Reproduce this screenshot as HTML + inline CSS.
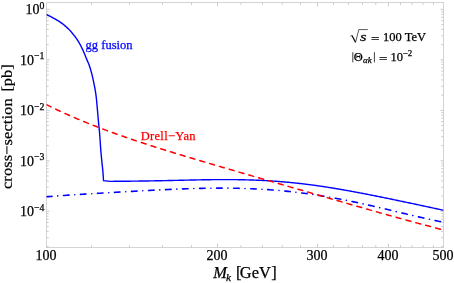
<!DOCTYPE html>
<html><head><meta charset="utf-8"><title>cross-section</title>
<style>
html,body{margin:0;padding:0;background:#fff;}
body{width:454px;height:283px;overflow:hidden;font-family:"Liberation Serif",serif;}
svg{display:block;will-change:transform;}
text{font-family:"Liberation Serif",serif;fill:#000;stroke:#000;stroke-width:0.25px;}
</style></head><body>
<svg width="454" height="283" viewBox="0 0 454 283">
<rect width="454" height="283" fill="#fff"/>
<g stroke="#d4d4d4" stroke-width="1" fill="none">
<rect x="46.5" y="2.5" width="397.00" height="245.00"/>
</g>
<g stroke="#c4c4c4" stroke-width="0.9" fill="none">
<line x1="46.50" y1="9.40" x2="49.50" y2="9.40"/><line x1="443.50" y1="9.40" x2="440.50" y2="9.40"/><line x1="46.50" y1="44.68" x2="48.70" y2="44.68"/><line x1="443.50" y1="44.68" x2="441.30" y2="44.68"/><line x1="46.50" y1="35.79" x2="48.70" y2="35.79"/><line x1="443.50" y1="35.79" x2="441.30" y2="35.79"/><line x1="46.50" y1="29.48" x2="48.70" y2="29.48"/><line x1="443.50" y1="29.48" x2="441.30" y2="29.48"/><line x1="46.50" y1="24.59" x2="48.70" y2="24.59"/><line x1="443.50" y1="24.59" x2="441.30" y2="24.59"/><line x1="46.50" y1="20.60" x2="48.70" y2="20.60"/><line x1="443.50" y1="20.60" x2="441.30" y2="20.60"/><line x1="46.50" y1="17.22" x2="48.70" y2="17.22"/><line x1="443.50" y1="17.22" x2="441.30" y2="17.22"/><line x1="46.50" y1="14.29" x2="48.70" y2="14.29"/><line x1="443.50" y1="14.29" x2="441.30" y2="14.29"/><line x1="46.50" y1="11.71" x2="48.70" y2="11.71"/><line x1="443.50" y1="11.71" x2="441.30" y2="11.71"/><line x1="46.50" y1="59.87" x2="49.50" y2="59.87"/><line x1="443.50" y1="59.87" x2="440.50" y2="59.87"/><line x1="46.50" y1="95.15" x2="48.70" y2="95.15"/><line x1="443.50" y1="95.15" x2="441.30" y2="95.15"/><line x1="46.50" y1="86.26" x2="48.70" y2="86.26"/><line x1="443.50" y1="86.26" x2="441.30" y2="86.26"/><line x1="46.50" y1="79.95" x2="48.70" y2="79.95"/><line x1="443.50" y1="79.95" x2="441.30" y2="79.95"/><line x1="46.50" y1="75.06" x2="48.70" y2="75.06"/><line x1="443.50" y1="75.06" x2="441.30" y2="75.06"/><line x1="46.50" y1="71.07" x2="48.70" y2="71.07"/><line x1="443.50" y1="71.07" x2="441.30" y2="71.07"/><line x1="46.50" y1="67.69" x2="48.70" y2="67.69"/><line x1="443.50" y1="67.69" x2="441.30" y2="67.69"/><line x1="46.50" y1="64.76" x2="48.70" y2="64.76"/><line x1="443.50" y1="64.76" x2="441.30" y2="64.76"/><line x1="46.50" y1="62.18" x2="48.70" y2="62.18"/><line x1="443.50" y1="62.18" x2="441.30" y2="62.18"/><line x1="46.50" y1="110.34" x2="49.50" y2="110.34"/><line x1="443.50" y1="110.34" x2="440.50" y2="110.34"/><line x1="46.50" y1="145.62" x2="48.70" y2="145.62"/><line x1="443.50" y1="145.62" x2="441.30" y2="145.62"/><line x1="46.50" y1="136.73" x2="48.70" y2="136.73"/><line x1="443.50" y1="136.73" x2="441.30" y2="136.73"/><line x1="46.50" y1="130.42" x2="48.70" y2="130.42"/><line x1="443.50" y1="130.42" x2="441.30" y2="130.42"/><line x1="46.50" y1="125.53" x2="48.70" y2="125.53"/><line x1="443.50" y1="125.53" x2="441.30" y2="125.53"/><line x1="46.50" y1="121.54" x2="48.70" y2="121.54"/><line x1="443.50" y1="121.54" x2="441.30" y2="121.54"/><line x1="46.50" y1="118.16" x2="48.70" y2="118.16"/><line x1="443.50" y1="118.16" x2="441.30" y2="118.16"/><line x1="46.50" y1="115.23" x2="48.70" y2="115.23"/><line x1="443.50" y1="115.23" x2="441.30" y2="115.23"/><line x1="46.50" y1="112.65" x2="48.70" y2="112.65"/><line x1="443.50" y1="112.65" x2="441.30" y2="112.65"/><line x1="46.50" y1="160.81" x2="49.50" y2="160.81"/><line x1="443.50" y1="160.81" x2="440.50" y2="160.81"/><line x1="46.50" y1="196.09" x2="48.70" y2="196.09"/><line x1="443.50" y1="196.09" x2="441.30" y2="196.09"/><line x1="46.50" y1="187.20" x2="48.70" y2="187.20"/><line x1="443.50" y1="187.20" x2="441.30" y2="187.20"/><line x1="46.50" y1="180.89" x2="48.70" y2="180.89"/><line x1="443.50" y1="180.89" x2="441.30" y2="180.89"/><line x1="46.50" y1="176.00" x2="48.70" y2="176.00"/><line x1="443.50" y1="176.00" x2="441.30" y2="176.00"/><line x1="46.50" y1="172.01" x2="48.70" y2="172.01"/><line x1="443.50" y1="172.01" x2="441.30" y2="172.01"/><line x1="46.50" y1="168.63" x2="48.70" y2="168.63"/><line x1="443.50" y1="168.63" x2="441.30" y2="168.63"/><line x1="46.50" y1="165.70" x2="48.70" y2="165.70"/><line x1="443.50" y1="165.70" x2="441.30" y2="165.70"/><line x1="46.50" y1="163.12" x2="48.70" y2="163.12"/><line x1="443.50" y1="163.12" x2="441.30" y2="163.12"/><line x1="46.50" y1="211.28" x2="49.50" y2="211.28"/><line x1="443.50" y1="211.28" x2="440.50" y2="211.28"/><line x1="46.50" y1="246.56" x2="48.70" y2="246.56"/><line x1="443.50" y1="246.56" x2="441.30" y2="246.56"/><line x1="46.50" y1="237.67" x2="48.70" y2="237.67"/><line x1="443.50" y1="237.67" x2="441.30" y2="237.67"/><line x1="46.50" y1="231.36" x2="48.70" y2="231.36"/><line x1="443.50" y1="231.36" x2="441.30" y2="231.36"/><line x1="46.50" y1="226.47" x2="48.70" y2="226.47"/><line x1="443.50" y1="226.47" x2="441.30" y2="226.47"/><line x1="46.50" y1="222.48" x2="48.70" y2="222.48"/><line x1="443.50" y1="222.48" x2="441.30" y2="222.48"/><line x1="46.50" y1="219.10" x2="48.70" y2="219.10"/><line x1="443.50" y1="219.10" x2="441.30" y2="219.10"/><line x1="46.50" y1="216.17" x2="48.70" y2="216.17"/><line x1="443.50" y1="216.17" x2="441.30" y2="216.17"/><line x1="46.50" y1="213.59" x2="48.70" y2="213.59"/><line x1="443.50" y1="213.59" x2="441.30" y2="213.59"/><line x1="91.47" y1="247.50" x2="91.47" y2="245.20"/><line x1="91.47" y1="2.50" x2="91.47" y2="4.80"/><line x1="129.50" y1="247.50" x2="129.50" y2="245.20"/><line x1="129.50" y1="2.50" x2="129.50" y2="4.80"/><line x1="162.44" y1="247.50" x2="162.44" y2="245.20"/><line x1="162.44" y1="2.50" x2="162.44" y2="4.80"/><line x1="191.49" y1="247.50" x2="191.49" y2="245.20"/><line x1="191.49" y1="2.50" x2="191.49" y2="4.80"/><line x1="217.48" y1="247.50" x2="217.48" y2="243.70"/><line x1="217.48" y1="2.50" x2="217.48" y2="6.30"/><line x1="240.99" y1="247.50" x2="240.99" y2="245.20"/><line x1="240.99" y1="2.50" x2="240.99" y2="4.80"/><line x1="262.45" y1="247.50" x2="262.45" y2="245.20"/><line x1="262.45" y1="2.50" x2="262.45" y2="4.80"/><line x1="282.20" y1="247.50" x2="282.20" y2="245.20"/><line x1="282.20" y1="2.50" x2="282.20" y2="4.80"/><line x1="300.48" y1="247.50" x2="300.48" y2="245.20"/><line x1="300.48" y1="2.50" x2="300.48" y2="4.80"/><line x1="317.49" y1="247.50" x2="317.49" y2="243.70"/><line x1="317.49" y1="2.50" x2="317.49" y2="6.30"/><line x1="333.41" y1="247.50" x2="333.41" y2="245.20"/><line x1="333.41" y1="2.50" x2="333.41" y2="4.80"/><line x1="348.37" y1="247.50" x2="348.37" y2="245.20"/><line x1="348.37" y1="2.50" x2="348.37" y2="4.80"/><line x1="362.47" y1="247.50" x2="362.47" y2="245.20"/><line x1="362.47" y1="2.50" x2="362.47" y2="4.80"/><line x1="375.80" y1="247.50" x2="375.80" y2="245.20"/><line x1="375.80" y1="2.50" x2="375.80" y2="4.80"/><line x1="388.46" y1="247.50" x2="388.46" y2="243.70"/><line x1="388.46" y1="2.50" x2="388.46" y2="6.30"/><line x1="400.49" y1="247.50" x2="400.49" y2="245.20"/><line x1="400.49" y1="2.50" x2="400.49" y2="4.80"/><line x1="411.97" y1="247.50" x2="411.97" y2="245.20"/><line x1="411.97" y1="2.50" x2="411.97" y2="4.80"/><line x1="422.93" y1="247.50" x2="422.93" y2="245.20"/><line x1="422.93" y1="2.50" x2="422.93" y2="4.80"/><line x1="433.43" y1="247.50" x2="433.43" y2="245.20"/><line x1="433.43" y1="2.50" x2="433.43" y2="4.80"/>
</g>
<clipPath id="cp"><rect x="46.5" y="2.5" width="397.00" height="245.00"/></clipPath>
<g fill="none" stroke-linejoin="miter" clip-path="url(#cp)">
<path d="M46.40,14.50 L48.67,15.62 L50.85,16.73 L52.93,17.85 L54.93,18.96 L56.89,20.08 L58.79,21.19 L60.51,22.31 L62.05,23.42 L63.46,24.54 L64.80,25.65 L66.08,26.77 L67.33,27.89 L68.53,29.00 L69.66,30.12 L70.70,31.23 L71.63,32.35 L72.51,33.46 L73.37,34.58 L74.25,35.69 L75.14,36.81 L76.00,37.92 L76.81,39.04 L77.57,40.16 L78.26,41.27 L78.92,42.39 L79.56,43.50 L80.17,44.62 L80.75,45.73 L81.32,46.85 L81.87,47.96 L82.40,49.08 L82.92,50.19 L83.42,51.31 L83.91,52.42 L84.39,53.54 L84.86,54.66 L85.31,55.77 L85.76,56.89 L86.21,58.00 L86.66,59.12 L87.13,60.23 L87.62,61.35 L88.11,62.46 L88.58,63.58 L89.01,64.69 L89.40,65.81 L89.78,66.93 L90.14,68.04 L90.48,69.16 L90.81,70.27 L91.12,71.39 L91.43,72.50 L91.72,73.62 L92.01,74.73 L92.28,75.85 L92.55,76.96 L92.80,78.08 L93.05,79.20 L93.29,80.31 L93.52,81.43 L93.75,82.54 L93.97,83.66 L94.20,84.77 L94.42,85.89 L94.64,87.00 L94.85,88.12 L95.05,89.23 L95.24,90.35 L95.42,91.47 L95.60,92.58 L95.76,93.70 L95.92,94.81 L96.07,95.93 L96.20,97.04 L96.33,98.16 L96.45,99.27 L96.57,100.39 L96.68,101.50 L96.78,102.62 L96.89,103.73 L96.99,104.85 L97.08,105.97 L97.18,107.08 L97.28,108.20 L97.38,109.31 L97.48,110.43 L97.58,111.54 L97.67,112.66 L97.77,113.77 L97.87,114.89 L97.96,116.00 L98.06,117.12 L98.15,118.24 L98.25,119.35 L98.35,120.47 L98.45,121.58 L98.56,122.70 L98.67,123.81 L98.78,124.93 L98.89,126.04 L99.01,127.16 L99.12,128.27 L99.23,129.39 L99.34,130.51 L99.45,131.62 L99.55,132.74 L99.65,133.85 L99.74,134.97 L99.82,136.08 L99.90,137.20 L99.98,138.31 L100.05,139.43 L100.13,140.54 L100.20,141.66 L100.27,142.78 L100.34,143.89 L100.41,145.01 L100.49,146.12 L100.57,147.24 L100.65,148.35 L100.74,149.47 L100.83,150.58 L100.92,151.70 L101.02,152.81 L101.12,153.93 L101.22,155.04 L101.33,156.16 L101.43,157.28 L101.54,158.39 L101.65,159.51 L101.76,160.62 L101.87,161.74 L101.99,162.85 L102.10,163.97 L102.23,165.08 L102.35,166.20 L102.48,167.31 L102.60,168.43 L102.71,169.55 L102.81,170.66 L102.90,171.78 L102.99,172.89 L103.08,174.01 L103.16,175.12 L103.24,176.24 L103.31,177.35 L103.38,178.47 L103.44,179.58 L103.50,180.70 L110.18,181.36 L111.17,181.35 L112.17,181.34 L113.16,181.33 L114.16,181.32 L115.15,181.31 L116.15,181.30 L117.14,181.29 L118.14,181.29 L119.13,181.28 L120.13,181.27 L121.12,181.26 L122.12,181.25 L123.11,181.24 L124.11,181.23 L125.10,181.22 L126.10,181.21 L127.09,181.20 L128.09,181.20 L129.08,181.19 L130.08,181.18 L131.07,181.16 L132.07,181.15 L133.06,181.14 L134.06,181.13 L135.05,181.12 L136.05,181.11 L137.04,181.10 L138.04,181.08 L139.03,181.07 L140.03,181.06 L141.02,181.05 L142.02,181.03 L143.01,181.02 L144.01,181.00 L145.00,180.99 L146.00,180.97 L146.99,180.96 L147.99,180.94 L148.98,180.93 L149.98,180.91 L150.97,180.89 L151.97,180.87 L152.96,180.86 L153.96,180.84 L154.95,180.82 L155.95,180.80 L156.94,180.78 L157.94,180.76 L158.93,180.74 L159.93,180.72 L160.92,180.70 L161.92,180.68 L162.91,180.66 L163.91,180.64 L164.90,180.62 L165.90,180.60 L166.89,180.58 L167.89,180.56 L168.88,180.53 L169.88,180.51 L170.87,180.49 L171.87,180.47 L172.86,180.44 L173.86,180.42 L174.85,180.40 L175.85,180.37 L176.84,180.35 L177.84,180.33 L178.83,180.31 L179.83,180.28 L180.82,180.26 L181.82,180.24 L182.81,180.21 L183.81,180.19 L184.80,180.17 L185.80,180.15 L186.79,180.12 L187.79,180.10 L188.78,180.08 L189.78,180.06 L190.77,180.03 L191.77,180.01 L192.76,179.99 L193.76,179.97 L194.75,179.95 L195.75,179.93 L196.74,179.91 L197.74,179.89 L198.73,179.87 L199.73,179.85 L200.72,179.83 L201.72,179.82 L202.71,179.80 L203.71,179.78 L204.70,179.77 L205.70,179.75 L206.69,179.74 L207.69,179.72 L208.68,179.71 L209.68,179.69 L210.67,179.68 L211.67,179.67 L212.66,179.66 L213.66,179.65 L214.65,179.64 L215.65,179.63 L216.64,179.62 L217.64,179.61 L218.63,179.61 L219.63,179.60 L220.62,179.60 L221.62,179.59 L222.61,179.59 L223.61,179.59 L224.60,179.59 L225.60,179.59 L226.59,179.59 L227.59,179.59 L228.58,179.59 L229.58,179.60 L230.57,179.60 L231.57,179.61 L232.56,179.62 L233.56,179.63 L234.55,179.64 L235.55,179.65 L236.54,179.66 L237.54,179.67 L238.53,179.69 L239.53,179.70 L240.52,179.72 L241.52,179.74 L242.51,179.76 L243.51,179.78 L244.50,179.80 L245.50,179.83 L246.49,179.85 L247.49,179.88 L248.48,179.91 L249.48,179.94 L250.47,179.97 L251.47,180.00 L252.46,180.04 L253.46,180.07 L254.45,180.11 L255.45,180.15 L256.44,180.19 L257.44,180.23 L258.43,180.27 L259.43,180.31 L260.42,180.36 L261.42,180.41 L262.41,180.46 L263.41,180.51 L264.40,180.56 L265.40,180.61 L266.39,180.67 L267.39,180.73 L268.38,180.79 L269.38,180.85 L270.37,180.91 L271.37,180.97 L272.36,181.04 L273.36,181.10 L274.35,181.17 L275.35,181.24 L276.34,181.31 L277.34,181.39 L278.33,181.46 L279.33,181.54 L280.32,181.62 L281.32,181.70 L282.31,181.78 L283.31,181.87 L284.30,181.95 L285.30,182.04 L286.29,182.13 L287.29,182.22 L288.28,182.31 L289.28,182.40 L290.27,182.50 L291.27,182.60 L292.26,182.69 L293.26,182.79 L294.25,182.90 L295.25,183.00 L296.24,183.11 L297.24,183.21 L298.23,183.32 L299.23,183.43 L300.22,183.55 L301.22,183.66 L302.21,183.77 L303.21,183.89 L304.20,184.01 L305.20,184.13 L306.19,184.25 L307.19,184.38 L308.18,184.50 L309.18,184.63 L310.17,184.76 L311.17,184.89 L312.16,185.02 L313.16,185.15 L314.15,185.28 L315.15,185.42 L316.14,185.56 L317.14,185.70 L318.13,185.84 L319.13,185.98 L320.12,186.12 L321.12,186.27 L322.11,186.41 L323.11,186.56 L324.10,186.71 L325.10,186.86 L326.09,187.01 L327.09,187.17 L328.08,187.32 L329.08,187.48 L330.07,187.63 L331.07,187.79 L332.06,187.95 L333.06,188.11 L334.05,188.28 L335.05,188.44 L336.04,188.60 L337.04,188.77 L338.03,188.94 L339.03,189.11 L340.02,189.28 L341.02,189.45 L342.01,189.62 L343.01,189.79 L344.00,189.97 L345.00,190.14 L345.99,190.32 L346.99,190.49 L347.98,190.67 L348.98,190.85 L349.97,191.03 L350.97,191.21 L351.96,191.40 L352.96,191.58 L353.95,191.76 L354.95,191.95 L355.94,192.13 L356.94,192.32 L357.93,192.51 L358.93,192.70 L359.92,192.89 L360.92,193.08 L361.91,193.27 L362.91,193.46 L363.90,193.65 L364.90,193.84 L365.89,194.04 L366.89,194.23 L367.88,194.43 L368.88,194.62 L369.87,194.82 L370.87,195.01 L371.86,195.21 L372.86,195.41 L373.85,195.61 L374.85,195.81 L375.84,196.01 L376.84,196.21 L377.83,196.41 L378.83,196.61 L379.82,196.81 L380.82,197.01 L381.81,197.21 L382.81,197.42 L383.80,197.62 L384.80,197.82 L385.79,198.03 L386.79,198.23 L387.78,198.44 L388.78,198.64 L389.77,198.85 L390.77,199.05 L391.76,199.26 L392.76,199.46 L393.75,199.67 L394.75,199.88 L395.74,200.08 L396.74,200.29 L397.73,200.50 L398.73,200.70 L399.72,200.91 L400.72,201.12 L401.71,201.33 L402.71,201.54 L403.70,201.74 L404.70,201.95 L405.69,202.16 L406.69,202.37 L407.68,202.58 L408.68,202.79 L409.67,203.00 L410.67,203.21 L411.66,203.42 L412.66,203.63 L413.65,203.84 L414.65,204.05 L415.64,204.26 L416.64,204.47 L417.63,204.68 L418.63,204.89 L419.62,205.11 L420.62,205.32 L421.61,205.53 L422.61,205.74 L423.60,205.95 L424.60,206.17 L425.59,206.38 L426.59,206.59 L427.58,206.81 L428.58,207.02 L429.57,207.23 L430.57,207.45 L431.56,207.66 L432.56,207.88 L433.55,208.09 L434.55,208.31 L435.54,208.53 L436.54,208.75 L437.53,208.96 L438.53,209.18 L439.52,209.40 L440.52,209.62 L441.51,209.84 L442.51,210.06 L443.50,210.28" stroke="#0000ff" stroke-width="1.4"/>
<path d="M46.50,196.78 L48.49,196.61 L50.49,196.45 L52.48,196.30 L54.48,196.15 L56.47,196.00 L58.47,195.85 L60.46,195.71 L62.46,195.57 L64.45,195.43 L66.45,195.29 L68.44,195.16 L70.44,195.02 L72.43,194.89 L74.43,194.76 L76.42,194.63 L78.42,194.51 L80.41,194.38 L82.41,194.26 L84.40,194.14 L86.40,194.01 L88.39,193.89 L90.39,193.77 L92.38,193.65 L94.38,193.53 L96.37,193.41 L98.37,193.29 L100.36,193.18 L102.36,193.06 L104.35,192.94 L106.35,192.82 L108.34,192.71 L110.34,192.59 L112.33,192.48 L114.33,192.36 L116.32,192.25 L118.32,192.13 L120.31,192.02 L122.31,191.90 L124.30,191.79 L126.30,191.68 L128.29,191.56 L130.29,191.45 L132.28,191.34 L134.28,191.23 L136.27,191.12 L138.27,191.01 L140.26,190.90 L142.26,190.79 L144.25,190.68 L146.25,190.58 L148.24,190.47 L150.24,190.37 L152.23,190.27 L154.23,190.16 L156.22,190.06 L158.22,189.96 L160.21,189.87 L162.21,189.77 L164.20,189.68 L166.20,189.58 L168.19,189.49 L170.19,189.40 L172.18,189.32 L174.18,189.23 L176.17,189.15 L178.17,189.07 L180.16,188.99 L182.16,188.92 L184.15,188.85 L186.15,188.78 L188.14,188.71 L190.14,188.65 L192.13,188.59 L194.13,188.53 L196.12,188.48 L198.12,188.43 L200.11,188.38 L202.11,188.33 L204.10,188.30 L206.10,188.26 L208.09,188.23 L210.09,188.20 L212.08,188.18 L214.08,188.16 L216.07,188.14 L218.07,188.13 L220.06,188.13 L222.06,188.13 L224.05,188.13 L226.05,188.14 L228.04,188.15 L230.04,188.17 L232.03,188.20 L234.03,188.23 L236.02,188.26 L238.02,188.30 L240.01,188.35 L242.01,188.40 L244.00,188.46 L246.00,188.52 L247.99,188.59 L249.99,188.67 L251.98,188.75 L253.98,188.84 L255.97,188.93 L257.97,189.04 L259.96,189.14 L261.96,189.26 L263.95,189.38 L265.95,189.50 L267.94,189.64 L269.94,189.78 L271.93,189.93 L273.93,190.08 L275.92,190.24 L277.92,190.41 L279.91,190.58 L281.91,190.76 L283.90,190.95 L285.90,191.15 L287.89,191.35 L289.89,191.56 L291.88,191.78 L293.88,192.00 L295.87,192.23 L297.87,192.47 L299.86,192.71 L301.86,192.97 L303.85,193.23 L305.85,193.49 L307.84,193.77 L309.84,194.05 L311.83,194.33 L313.83,194.63 L315.82,194.93 L317.82,195.24 L319.81,195.55 L321.81,195.87 L323.80,196.20 L325.80,196.54 L327.79,196.88 L329.79,197.22 L331.78,197.58 L333.78,197.94 L335.77,198.30 L337.77,198.68 L339.76,199.06 L341.76,199.44 L343.75,199.83 L345.75,200.23 L347.74,200.63 L349.74,201.03 L351.73,201.45 L353.73,201.86 L355.72,202.28 L357.72,202.71 L359.71,203.14 L361.71,203.58 L363.70,204.02 L365.70,204.46 L367.69,204.91 L369.69,205.36 L371.68,205.81 L373.68,206.27 L375.67,206.73 L377.67,207.20 L379.66,207.66 L381.66,208.13 L383.65,208.60 L385.65,209.08 L387.64,209.55 L389.64,210.03 L391.63,210.50 L393.63,210.98 L395.62,211.46 L397.62,211.94 L399.61,212.41 L401.61,212.89 L403.60,213.37 L405.60,213.84 L407.59,214.32 L409.59,214.79 L411.58,215.26 L413.58,215.73 L415.57,216.20 L417.57,216.66 L419.56,217.12 L421.56,217.57 L423.55,218.02 L425.55,218.47 L427.54,218.91 L429.54,219.34 L431.53,219.77 L433.53,220.20 L435.52,220.61 L437.52,221.02 L439.51,221.42 L441.51,221.82 L443.50,222.20" stroke="#0000ff" stroke-width="1.6" stroke-linecap="round" stroke-dasharray="5.5 5.765 0.01 5.765"/>
<path d="M46.50,104.66 L48.49,105.66 L50.49,106.64 L52.48,107.61 L54.48,108.57 L56.47,109.52 L58.47,110.46 L60.46,111.39 L62.46,112.31 L64.45,113.22 L66.45,114.12 L68.44,115.01 L70.44,115.89 L72.43,116.76 L74.43,117.62 L76.42,118.48 L78.42,119.32 L80.41,120.16 L82.41,120.98 L84.40,121.80 L86.40,122.62 L88.39,123.42 L90.39,124.22 L92.38,125.01 L94.38,125.79 L96.37,126.57 L98.37,127.34 L100.36,128.10 L102.36,128.85 L104.35,129.60 L106.35,130.34 L108.34,131.08 L110.34,131.81 L112.33,132.54 L114.33,133.26 L116.32,133.97 L118.32,134.68 L120.31,135.39 L122.31,136.08 L124.30,136.78 L126.30,137.47 L128.29,138.15 L130.29,138.83 L132.28,139.51 L134.28,140.18 L136.27,140.85 L138.27,141.51 L140.26,142.17 L142.26,142.83 L144.25,143.48 L146.25,144.13 L148.24,144.78 L150.24,145.42 L152.23,146.06 L154.23,146.69 L156.22,147.33 L158.22,147.96 L160.21,148.59 L162.21,149.21 L164.20,149.83 L166.20,150.45 L168.19,151.07 L170.19,151.69 L172.18,152.30 L174.18,152.91 L176.17,153.52 L178.17,154.13 L180.16,154.74 L182.16,155.34 L184.15,155.94 L186.15,156.54 L188.14,157.14 L190.14,157.74 L192.13,158.34 L194.13,158.93 L196.12,159.53 L198.12,160.12 L200.11,160.71 L202.11,161.30 L204.10,161.89 L206.10,162.48 L208.09,163.07 L210.09,163.65 L212.08,164.24 L214.08,164.83 L216.07,165.41 L218.07,165.99 L220.06,166.58 L222.06,167.16 L224.05,167.74 L226.05,168.33 L228.04,168.91 L230.04,169.49 L232.03,170.07 L234.03,170.65 L236.02,171.23 L238.02,171.81 L240.01,172.39 L242.01,172.97 L244.00,173.55 L246.00,174.13 L247.99,174.71 L249.99,175.29 L251.98,175.87 L253.98,176.44 L255.97,177.02 L257.97,177.60 L259.96,178.18 L261.96,178.76 L263.95,179.34 L265.95,179.92 L267.94,180.49 L269.94,181.07 L271.93,181.65 L273.93,182.23 L275.92,182.81 L277.92,183.39 L279.91,183.97 L281.91,184.55 L283.90,185.12 L285.90,185.70 L287.89,186.28 L289.89,186.86 L291.88,187.44 L293.88,188.02 L295.87,188.60 L297.87,189.18 L299.86,189.76 L301.86,190.33 L303.85,190.91 L305.85,191.49 L307.84,192.07 L309.84,192.65 L311.83,193.23 L313.83,193.81 L315.82,194.38 L317.82,194.96 L319.81,195.54 L321.81,196.12 L323.80,196.69 L325.80,197.27 L327.79,197.85 L329.79,198.42 L331.78,199.00 L333.78,199.58 L335.77,200.15 L337.77,200.73 L339.76,201.30 L341.76,201.88 L343.75,202.45 L345.75,203.02 L347.74,203.60 L349.74,204.17 L351.73,204.74 L353.73,205.31 L355.72,205.88 L357.72,206.45 L359.71,207.02 L361.71,207.59 L363.70,208.16 L365.70,208.73 L367.69,209.29 L369.69,209.86 L371.68,210.42 L373.68,210.99 L375.67,211.55 L377.67,212.11 L379.66,212.68 L381.66,213.24 L383.65,213.79 L385.65,214.35 L387.64,214.91 L389.64,215.47 L391.63,216.02 L393.63,216.58 L395.62,217.13 L397.62,217.68 L399.61,218.23 L401.61,218.78 L403.60,219.33 L405.60,219.87 L407.59,220.42 L409.59,220.96 L411.58,221.51 L413.58,222.05 L415.57,222.59 L417.57,223.13 L419.56,223.66 L421.56,224.20 L423.55,224.73 L425.55,225.27 L427.54,225.80 L429.54,226.33 L431.53,226.86 L433.53,227.39 L435.52,227.91 L437.52,228.44 L439.51,228.96 L441.51,229.48 L443.50,230.00" stroke="#ff0000" stroke-width="1.5" stroke-linecap="round" stroke-dasharray="5.0 5.216"/>
</g>
<text x="44.5" y="14.20" text-anchor="end" font-size="14.0">10<tspan font-size="9.8" dy="-5.2">0</tspan></text><text x="44.5" y="64.67" text-anchor="end" font-size="14.0">10<tspan font-size="9.8" dy="-5.2">−1</tspan></text><text x="44.5" y="115.14" text-anchor="end" font-size="14.0">10<tspan font-size="9.8" dy="-5.2">−2</tspan></text><text x="44.5" y="165.61" text-anchor="end" font-size="14.0">10<tspan font-size="9.8" dy="-5.2">−3</tspan></text><text x="44.5" y="216.08" text-anchor="end" font-size="14.0">10<tspan font-size="9.8" dy="-5.2">−4</tspan></text>
<text x="46.00" y="259.5" text-anchor="middle" font-size="14.0">100</text><text x="216.98" y="259.5" text-anchor="middle" font-size="14.0">200</text><text x="316.99" y="259.5" text-anchor="middle" font-size="14.0">300</text><text x="387.96" y="259.5" text-anchor="middle" font-size="14.0">400</text><text x="443.00" y="259.5" text-anchor="middle" font-size="14.0">500</text>
<text x="213.35" y="278.3" font-size="16.4" font-style="italic">M</text>
<text x="226.1" y="281.0" font-size="11.2" font-style="italic">k</text>
<text x="236.1" y="278.3" font-size="16.4">[</text>
<text x="239.8" y="278.3" font-size="16.4">GeV</text>
<text x="271.15" y="278.3" font-size="16.4">]</text>
<text transform="translate(11.8,189.0) rotate(-89.9) scale(1,0.9)" font-size="16.4" textLength="90.6" lengthAdjust="spacing">cross−section</text>
<text transform="translate(11.8,91.6) rotate(-89.9) scale(1,0.9)" font-size="16.4">[pb]</text>
<text x="85.6" y="48.5" font-size="12.5" textLength="46.9" lengthAdjust="spacing" style="fill:#0000ff;stroke:#0000ff">gg fusion</text>
<text x="140.7" y="139.6" font-size="12.5" textLength="54.8" lengthAdjust="spacing" style="fill:#ff0000;stroke:#ff0000">Drell−Yan</text>
<g>
<path d="M350.4,36.2 L352.0,35.4" fill="none" stroke="#000" stroke-width="0.6"/>
<path d="M352.0,35.4 L355.5,42.3" fill="none" stroke="#000" stroke-width="1.2"/>
<path d="M355.5,42.5 L358.8,29.6 L367.8,29.6" fill="none" stroke="#000" stroke-width="0.65"/>
<text transform="translate(360.1,40.7) scale(1.35,1)" font-size="12.5" font-style="italic">s</text>
<text transform="translate(370.9,42.9) scale(1.2,1)" font-size="12.5">=</text>
<text x="383.1" y="40.7" font-size="12.5">100 TeV</text>
<path d="M352.8,52.2 V62.4 M374.4,52.2 V62.4" stroke="#000" stroke-width="0.75" fill="none"/>
<text x="353.7" y="61.0" font-size="12.5">Θ</text>
<text x="363.1" y="62.7" font-size="8.9" font-style="italic">αk</text>
<text transform="translate(378.9,63.2) scale(1.2,1)" font-size="12.5">=</text>
<text x="390.4" y="61.0" font-size="12.5">10</text>
<text x="402.7" y="55.9" font-size="8.9">−2</text>
</g>
</svg>
</body></html>
